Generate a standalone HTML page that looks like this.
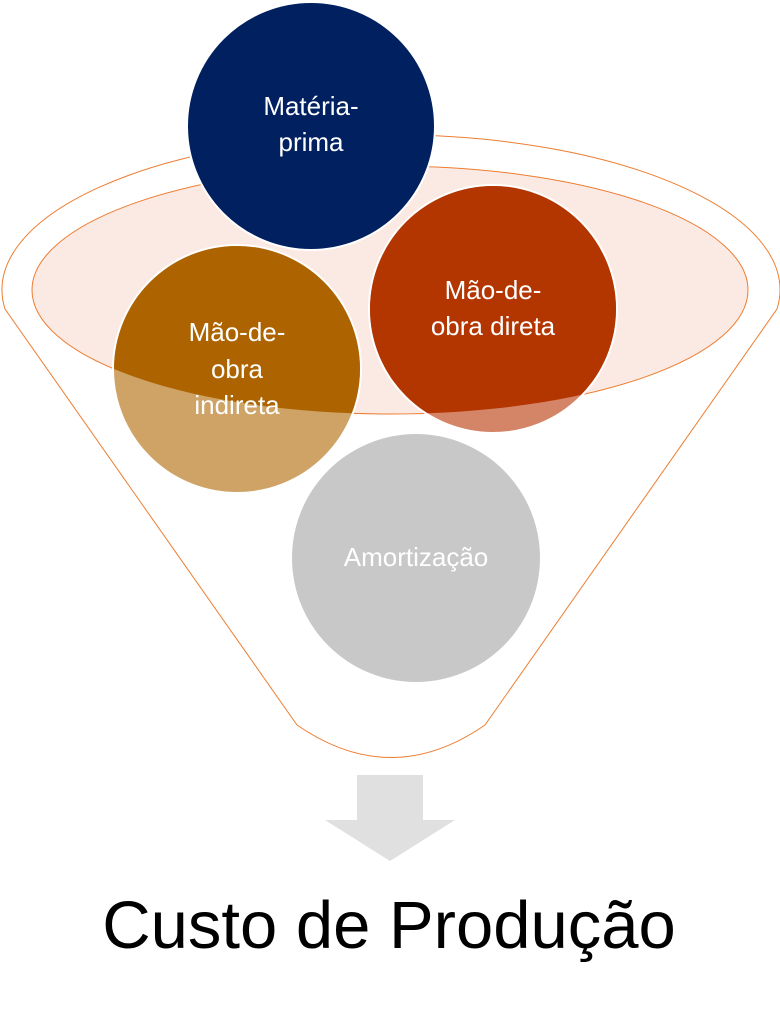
<!DOCTYPE html>
<html><head><meta charset="utf-8"><style>
html,body{margin:0;padding:0;background:#fff;width:780px;height:1014px;overflow:hidden}
svg{display:block}
text{font-family:"Liberation Sans",sans-serif;fill:#fff}
</style></head><body>
<svg width="780" height="1014" viewBox="0 0 780 1014">
<defs>
<clipPath id="ell"><ellipse cx="390" cy="290" rx="358" ry="124"/></clipPath>
</defs>
<path d="M297,725 L5,309 A389,155 0 1 1 777,309 L485,725 Q391,790 297,725 Z" fill="#fff" stroke="#ed7d31" stroke-width="1"/>
<ellipse cx="390" cy="290" rx="358" ry="124" fill="#fbeae3" stroke="#ed7d31" stroke-width="1"/>
<circle cx="311" cy="126" r="124" fill="#002060" stroke="#fff" stroke-width="2"/>
<circle cx="237" cy="369" r="124" fill="#cfa266" stroke="#fff" stroke-width="2"/>
<circle cx="237" cy="369" r="123" fill="#ad6400" clip-path="url(#ell)"/>
<circle cx="493" cy="309" r="124" fill="#d48467" stroke="#fff" stroke-width="2"/>
<circle cx="493" cy="309" r="123" fill="#b33500" clip-path="url(#ell)"/>
<circle cx="416" cy="558" r="124" fill="#c8c8c8"/>
<g font-size="26" text-anchor="middle">
<text x="311" y="115">Matéria-</text>
<text x="311" y="151">prima</text>
<text x="237" y="341">Mão-de-</text>
<text x="237" y="378">obra</text>
<text x="237" y="414">indireta</text>
<text x="493" y="299">Mão-de-</text>
<text x="493" y="335">obra direta</text>
<text x="416" y="566">Amortização</text>
</g>
<path d="M357,775 H423 V820 H455 L390,861 L325,820 H357 Z" fill="#e0e0e0"/>
<text x="389" y="948" font-size="67" text-anchor="middle" style="fill:#000">Custo de Produção</text>
</svg>
</body></html>
